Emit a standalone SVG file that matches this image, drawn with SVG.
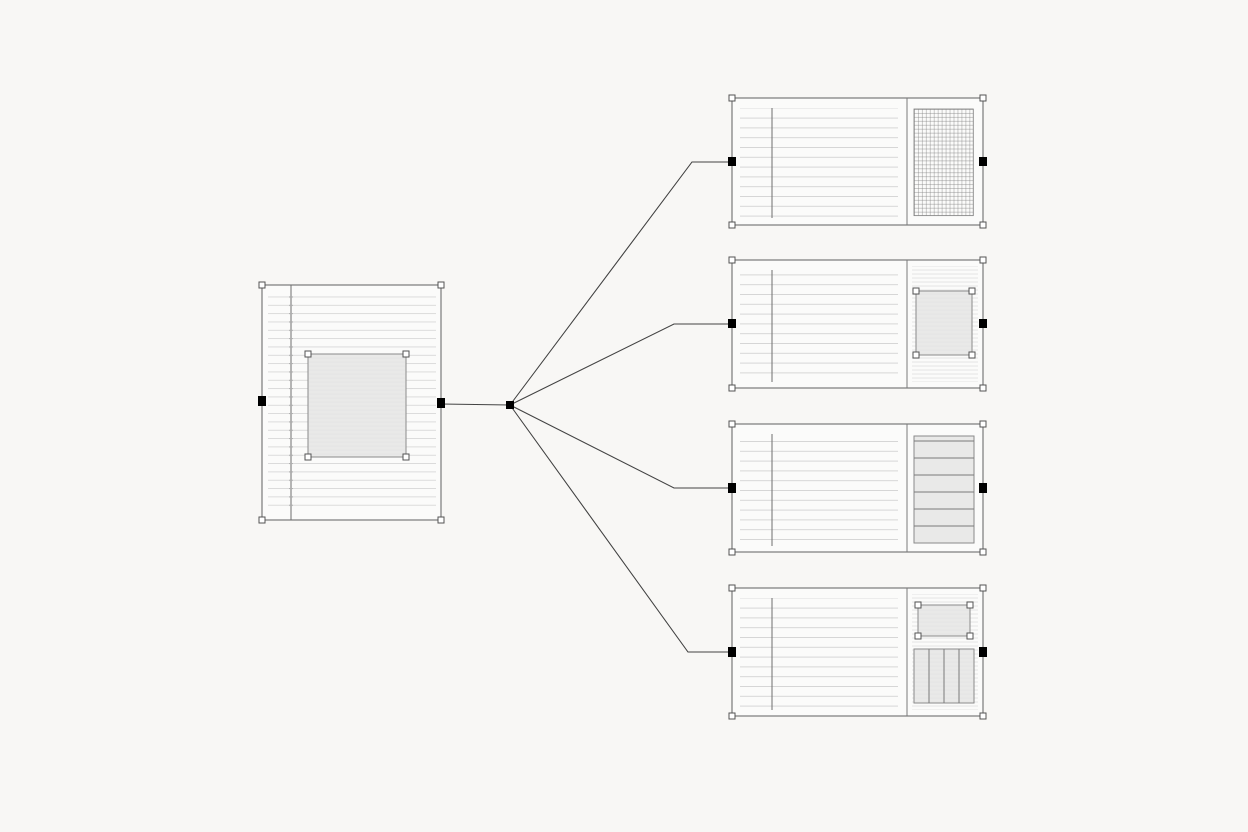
<svg xmlns="http://www.w3.org/2000/svg" width="1248" height="832" viewBox="0 0 1248 832">
<defs>
<style>
.page{fill:#fbfbfa;stroke:#7a7a7a;stroke-width:1.2}
.margin{stroke:#6f6f6f;stroke-width:1}
.div{stroke:#7a7a7a;stroke-width:1}
.oh{fill:#ffffff;stroke:#555;stroke-width:1}
.bh{fill:#000}
.inner{fill:#e9e9e8;stroke:#8a8a8a;stroke-width:1}
.conn{fill:none;stroke:#444;stroke-width:1.1}
</style>
<pattern id="faint" width="8" height="4" patternUnits="userSpaceOnUse">
<line x1="0" y1="2" x2="8" y2="2" stroke="#e4e4e4" stroke-width="1"/>
</pattern>
<pattern id="lp" width="200" height="8.33" patternUnits="userSpaceOnUse" x="0" y="296.5">
<line x1="0" y1="0.5" x2="200" y2="0.5" stroke="#d9d9d9" stroke-width="1"/>
</pattern>
<pattern id="ticks" width="4" height="8.33" patternUnits="userSpaceOnUse" x="289" y="296.5">
<line x1="0" y1="0.5" x2="4" y2="0.5" stroke="#b0b0b0" stroke-width="1"/>
</pattern>
<pattern id="rp" width="200" height="9.8" patternUnits="userSpaceOnUse" y="0">
<line x1="0" y1="0.5" x2="200" y2="0.5" stroke="#d6d6d6" stroke-width="1"/>
</pattern>
<pattern id="gridp" width="3.95" height="3.95" patternUnits="userSpaceOnUse" x="914" y="109">
<path d="M0 0H3.95M0 0V3.95" fill="none" stroke="#7e7e7e" stroke-width="0.8"/>
</pattern>
</defs>
<rect width="1248" height="832" fill="#f8f7f5"/>

<g id="connectors">
<line class="conn" x1="441" y1="404" x2="510" y2="405"/>
<polyline class="conn" points="510,405 692,162 732,162"/>
<polyline class="conn" points="510,405 674,324 732,324"/>
<polyline class="conn" points="510,405 674,488 732,488"/>
<polyline class="conn" points="510,405 688,652 732,652"/>
</g>

<g id="source-page">
<rect class="page" x="262" y="285" width="179" height="235"/>
<rect x="268" y="296" width="168" height="216" fill="url(#lp)"/>
<line class="margin" x1="291" y1="285" x2="291" y2="520"/>
<rect x="289" y="296" width="4" height="216" fill="url(#ticks)"/>
<rect class="inner" x="308" y="354" width="98" height="103"/>
<rect x="309" y="355" width="96" height="101" fill="url(#faint)"/>
<rect class="oh" x="305" y="351" width="6" height="6"/>
<rect class="oh" x="403" y="351" width="6" height="6"/>
<rect class="oh" x="305" y="454" width="6" height="6"/>
<rect class="oh" x="403" y="454" width="6" height="6"/>
<rect class="oh" x="259" y="282" width="6" height="6"/>
<rect class="oh" x="438" y="282" width="6" height="6"/>
<rect class="oh" x="259" y="517" width="6" height="6"/>
<rect class="oh" x="438" y="517" width="6" height="6"/>
<rect class="bh" x="258" y="396" width="8" height="10"/>
<rect class="bh" x="437" y="398" width="8" height="10"/>
</g>

<g id="hub">
<rect class="bh" x="506" y="401" width="8" height="8"/>
</g>

<g id="page-grid">
<rect class="page" x="732" y="98" width="251" height="127"/>
<rect x="740" y="108.5" width="158" height="110" fill="url(#rp)"/>
<line class="margin" x1="772" y1="108" x2="772" y2="218"/>
<line class="div" x1="907" y1="98" x2="907" y2="225"/>
<rect x="914" y="109" width="59.25" height="106.65" fill="url(#gridp)"/>
<rect x="914" y="109" width="59.25" height="106.65" fill="none" stroke="#7e7e7e" stroke-width="0.8"/>
<rect class="oh" x="729" y="95" width="6" height="6"/>
<rect class="oh" x="980" y="95" width="6" height="6"/>
<rect class="oh" x="729" y="222" width="6" height="6"/>
<rect class="oh" x="980" y="222" width="6" height="6"/>
<rect class="bh" x="728" y="157" width="8" height="9"/>
<rect class="bh" x="979" y="157" width="8" height="9"/>
</g>

<g id="page-image">
<rect class="page" x="732" y="260" width="251" height="128"/>
<rect x="740" y="270.5" width="158" height="110" fill="url(#rp)"/>
<line class="margin" x1="772" y1="270" x2="772" y2="382"/>
<line class="div" x1="907" y1="260" x2="907" y2="388"/>
<rect x="912" y="266" width="66" height="116" fill="url(#faint)"/>
<rect class="inner" x="916" y="291" width="56" height="64"/>
<rect x="917" y="292" width="54" height="62" fill="url(#faint)"/>
<rect class="oh" x="913" y="288" width="6" height="6"/>
<rect class="oh" x="969" y="288" width="6" height="6"/>
<rect class="oh" x="913" y="352" width="6" height="6"/>
<rect class="oh" x="969" y="352" width="6" height="6"/>
<rect class="oh" x="729" y="257" width="6" height="6"/>
<rect class="oh" x="980" y="257" width="6" height="6"/>
<rect class="oh" x="729" y="385" width="6" height="6"/>
<rect class="oh" x="980" y="385" width="6" height="6"/>
<rect class="bh" x="728" y="319" width="8" height="9"/>
<rect class="bh" x="979" y="319" width="8" height="9"/>
</g>

<g id="page-table">
<rect class="page" x="732" y="424" width="251" height="128"/>
<rect x="740" y="434.5" width="158" height="110" fill="url(#rp)"/>
<line class="margin" x1="772" y1="434" x2="772" y2="546"/>
<line class="div" x1="907" y1="424" x2="907" y2="552"/>
<rect class="inner" x="914" y="436" width="60" height="107"/>
<line class="div" x1="914" y1="441" x2="974" y2="441"/>
<line class="div" x1="914" y1="458" x2="974" y2="458"/>
<line class="div" x1="914" y1="475" x2="974" y2="475"/>
<line class="div" x1="914" y1="492" x2="974" y2="492"/>
<line class="div" x1="914" y1="509" x2="974" y2="509"/>
<line class="div" x1="914" y1="526" x2="974" y2="526"/>
<rect class="oh" x="729" y="421" width="6" height="6"/>
<rect class="oh" x="980" y="421" width="6" height="6"/>
<rect class="oh" x="729" y="549" width="6" height="6"/>
<rect class="oh" x="980" y="549" width="6" height="6"/>
<rect class="bh" x="728" y="483" width="8" height="10"/>
<rect class="bh" x="979" y="483" width="8" height="10"/>
</g>

<g id="page-mixed">
<rect class="page" x="732" y="588" width="251" height="128"/>
<rect x="740" y="598.5" width="158" height="110" fill="url(#rp)"/>
<line class="margin" x1="772" y1="598" x2="772" y2="710"/>
<line class="div" x1="907" y1="588" x2="907" y2="716"/>
<rect x="912" y="594" width="66" height="116" fill="url(#faint)"/>
<rect class="inner" x="918" y="605" width="52" height="31"/>
<rect x="919" y="606" width="50" height="29" fill="url(#faint)"/>
<rect class="oh" x="915" y="602" width="6" height="6"/>
<rect class="oh" x="967" y="602" width="6" height="6"/>
<rect class="oh" x="915" y="633" width="6" height="6"/>
<rect class="oh" x="967" y="633" width="6" height="6"/>
<rect class="inner" x="914" y="649" width="60" height="54"/>
<rect x="915" y="650" width="58" height="52" fill="url(#faint)"/>
<line class="div" x1="929" y1="649" x2="929" y2="703"/>
<line class="div" x1="944" y1="649" x2="944" y2="703"/>
<line class="div" x1="959" y1="649" x2="959" y2="703"/>
<rect class="oh" x="729" y="585" width="6" height="6"/>
<rect class="oh" x="980" y="585" width="6" height="6"/>
<rect class="oh" x="729" y="713" width="6" height="6"/>
<rect class="oh" x="980" y="713" width="6" height="6"/>
<rect class="bh" x="728" y="647" width="8" height="10"/>
<rect class="bh" x="979" y="647" width="8" height="10"/>
</g>
</svg>
